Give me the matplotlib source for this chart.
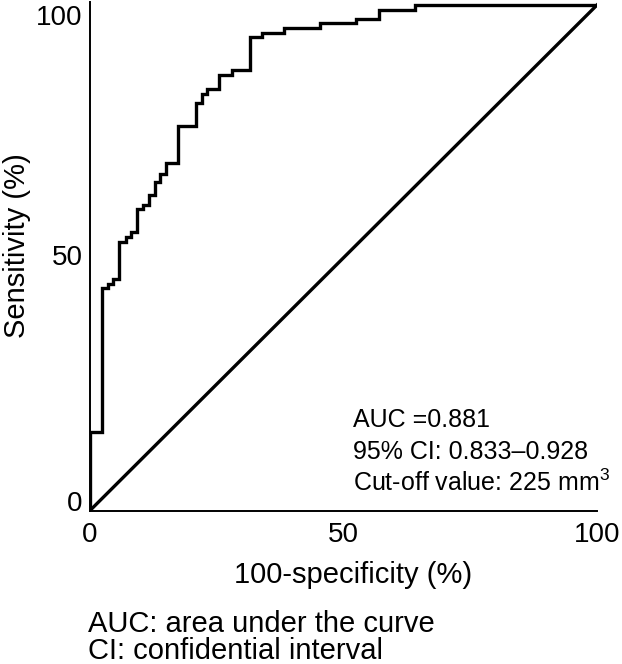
import numpy as np
import matplotlib
matplotlib.use("Agg")
import matplotlib.pyplot as plt

plt.rcParams['font.family'] = ['Liberation Sans', 'DejaVu Sans']
plt.rcParams['mathtext.fontset'] = 'custom'
plt.rcParams['mathtext.rm'] = 'Liberation Sans'
plt.rcParams['mathtext.it'] = 'Liberation Sans:italic'

# ROC curve corners: 100-specificity (%) where the curve jumps, and the new sensitivity (%)
fpr = [0, 0, 2.5, 3.6, 4.7, 5.9, 7.1, 8.1, 9.4, 10.6, 11.8, 12.9, 13.9, 15.1,
       17.4, 21.0, 22.1, 23.1, 25.6, 28.0, 31.6, 33.9, 38.4, 45.4, 52.5, 57.1,
       64.1, 100]
tpr = [0, 15.6, 44.0, 44.8, 45.8, 53.2, 54.1, 55.1, 59.6, 60.5, 62.4, 65.0,
       66.7, 68.8, 76.1, 80.7, 82.5, 83.5, 86.2, 87.2, 93.6, 94.5, 95.4, 96.4,
       97.3, 99.0, 100, 100]

ref_line = [0, 100]
ticks = [0, 50, 100]
stats = ["AUC =0.881", "95% CI: 0.833\u20130.928", "Cut-off value: 225 mm$^{3}$"]
notes = ["AUC: area under the curve", "CI: confidential interval"]

fig = plt.figure(figsize=(6.22, 6.64), dpi=100)
ax = fig.add_axes([0.1439, 0.2304, 0.8159, 0.7666])

ax.step(fpr, tpr, where='post', color='black', lw=2.4, solid_joinstyle='miter')
ax.plot(ref_line, ref_line, color='black', lw=2.4)

ax.set_xlim(0, 100)
ax.set_ylim(0, 100.6)
for s in ['top', 'right']:
    ax.spines[s].set_visible(False)
for s in ['left', 'bottom']:
    ax.spines[s].set_linewidth(1.4)

ax.set_xticks(ticks)
ax.set_yticks(ticks)
ax.set_xticklabels([str(t) for t in ticks])
ax.set_yticklabels([str(t) for t in ticks])
ax.tick_params(axis='x', length=0, pad=8, labelsize=20)
ax.tick_params(axis='y', length=0, pad=5, labelsize=20)
ylabs = ax.get_yticklabels()
ylabs[0].set_va('baseline')
ylabs[1].set_va('center')
ylabs[2].set_va('top')

# statistics block inside the plot
for i, s in enumerate(stats):
    ax.text(51.9, 16.7 - i * 6.4, s, fontsize=18, ha='left', va='baseline')

fig.text(0.5683, 0.122, "100-specificity (%)", fontsize=21, ha='center', va='baseline')
fig.text(0.0281, 0.6295, "Sensitivity (%)", fontsize=21, rotation=90, ha='center', va='center')

fig.text(0.1415, 0.0486, notes[0], fontsize=21, ha='left', va='baseline')
fig.text(0.1415, 0.0075, notes[1], fontsize=21, ha='left', va='baseline')

fig.savefig("out.png", dpi=100)
